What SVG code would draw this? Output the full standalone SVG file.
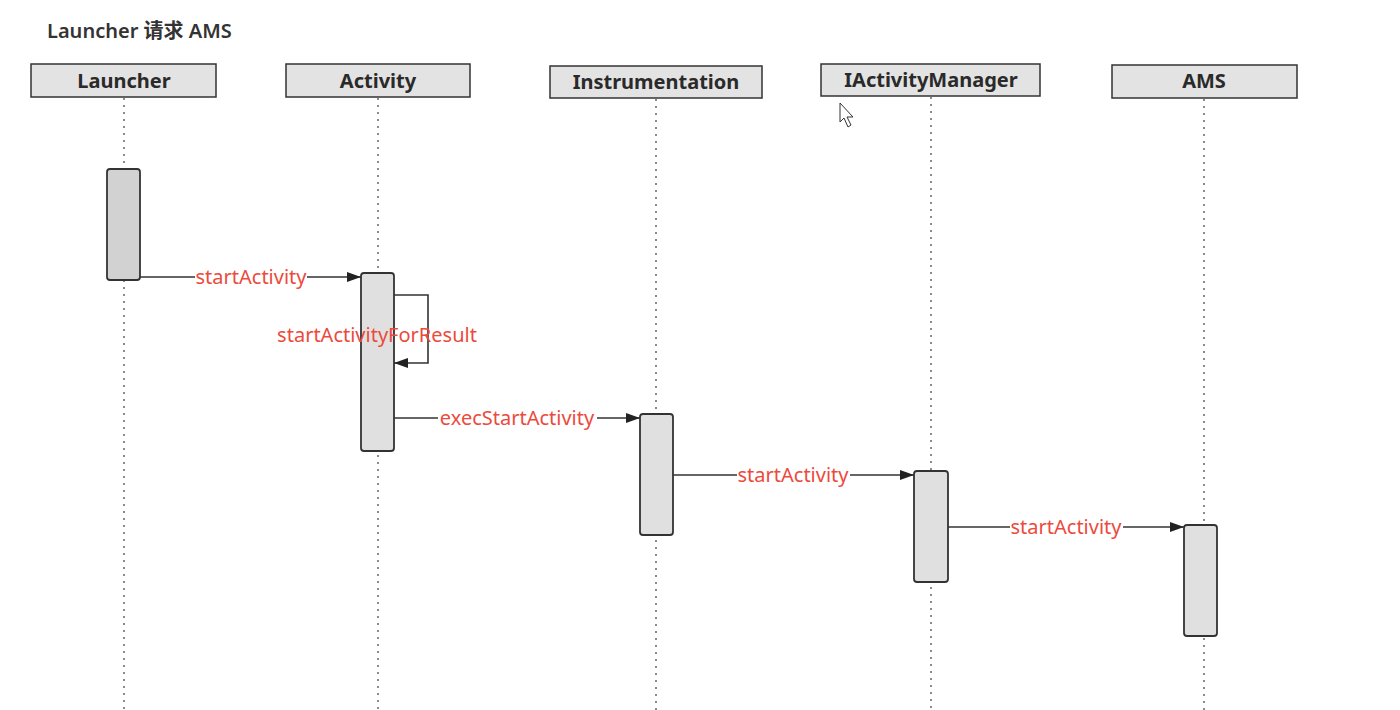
<svg xmlns="http://www.w3.org/2000/svg" width="1400" height="710" viewBox="0 0 1400 710">
<style>
.hdr{fill:#e3e3e3;stroke:#333;stroke-width:1.5}
.ht{font-family:"Noto Sans","Open Sans",sans-serif;font-weight:bold;font-size:20px;fill:#2a2a2a;text-anchor:middle}
.life{stroke:#666;stroke-width:1.5;stroke-dasharray:2 5}
.act{fill:#e0e0e0;stroke:#333;stroke-width:1.8}
.msg{stroke:#333;stroke-width:1.6;fill:none}
.lbl{font-family:"Noto Sans","Open Sans",sans-serif;font-size:20px;fill:#ec4a3c;text-anchor:middle}
.bg{fill:#fff}
</style>
<defs>
<marker id="ah" markerWidth="14" markerHeight="10" refX="14" refY="5" orient="auto" markerUnits="userSpaceOnUse">
<path d="M0,0 L14,5 L0,10 z" fill="#222"/>
</marker>
</defs>
<rect width="1400" height="710" fill="#fff"/>
<text x="47" y="38" font-family="Noto Sans, Noto Sans CJK SC, sans-serif" font-size="20" font-weight="600" fill="#333">Launcher 请求 AMS</text>

<g id="lifelines">
<line class="life" x1="124" y1="98" x2="124" y2="710"/>
<line class="life" x1="378" y1="98" x2="378" y2="710"/>
<line class="life" x1="656" y1="99" x2="656" y2="710"/>
<line class="life" x1="931" y1="97" x2="931" y2="710"/>
<line class="life" x1="1204" y1="99" x2="1204" y2="710"/>
</g>

<g id="launcher">
<rect class="hdr" x="31" y="64" width="185" height="33"/>
<text class="ht" x="124" y="88">Launcher</text>
<rect class="act" x="107" y="169" width="33" height="111" rx="3" style="fill:#d2d2d2"/>
</g>
<g id="activity">
<rect class="hdr" x="286" y="64" width="184" height="33"/>
<text class="ht" x="378" y="88">Activity</text>
<rect class="act" x="361" y="273" width="33" height="178" rx="3"/>
</g>
<g id="instrumentation">
<rect class="hdr" x="550" y="66" width="212" height="32"/>
<text class="ht" x="656" y="89">Instrumentation</text>
<rect class="act" x="640" y="414" width="33" height="121" rx="3"/>
</g>
<g id="iactivitymanager">
<rect class="hdr" x="821" y="64" width="219" height="32"/>
<text class="ht" x="931" y="87">IActivityManager</text>
<rect class="act" x="914" y="471" width="34" height="111" rx="3"/>
</g>
<g id="ams">
<rect class="hdr" x="1112" y="65" width="185" height="33"/>
<text class="ht" x="1204" y="88">AMS</text>
<rect class="act" x="1184" y="525" width="33" height="111" rx="3"/>
</g>

<g id="connectors">
<line class="msg" x1="140" y1="277" x2="361" y2="277" marker-end="url(#ah)"/>
<path class="msg" d="M394,295 H428 V363 H394" marker-end="url(#ah)"/>
<line class="msg" x1="394" y1="418" x2="640" y2="418" marker-end="url(#ah)"/>
<line class="msg" x1="673" y1="475" x2="914" y2="475" marker-end="url(#ah)"/>
<line class="msg" x1="948" y1="527" x2="1184" y2="527" marker-end="url(#ah)"/>
<rect class="bg" x="195" y="267" width="112" height="20"/>
<text class="lbl" x="251" y="284">startActivity</text>
<text class="lbl" x="377" y="342">startActivityForResult</text>
<rect class="bg" x="438" y="408" width="159" height="20"/>
<text class="lbl" x="517" y="425">execStartActivity</text>
<rect class="bg" x="737" y="465" width="113" height="20"/>
<text class="lbl" x="793" y="482">startActivity</text>
<rect class="bg" x="1010" y="517" width="113" height="20"/>
<text class="lbl" x="1066" y="534">startActivity</text>
</g>

<path d="M840,103 L840,122 L844,118 L848,127 L851,125 L847,117 L853,117 Z" fill="#fff" stroke="#333" stroke-width="1"/>
</svg>
